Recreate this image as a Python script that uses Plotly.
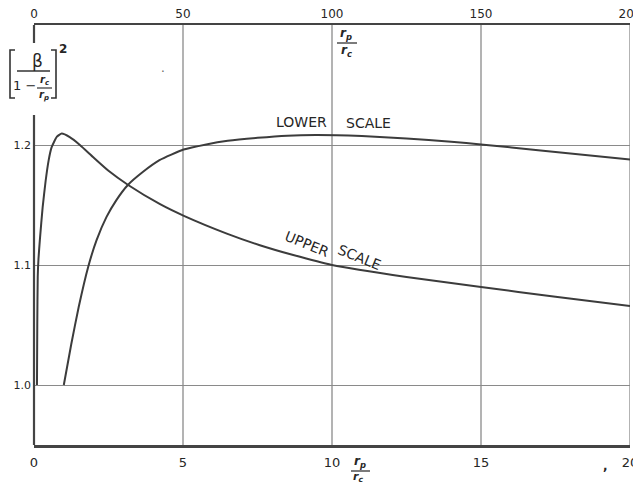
import plotly.graph_objects as go

# ---- data ----
LOWER_X = [1.0, 1.25, 1.5, 1.82, 2.10, 2.43, 2.77, 3.15, 3.66, 4.21, 5.02, 5.78, 6.5, 7.5, 8.5, 9.5, 11.0, 12.5, 14.0, 15.0, 17.0, 20.0]
LOWER_Y = [1.000, 1.034, 1.065, 1.0986, 1.1207, 1.1399, 1.1543, 1.1667, 1.1777, 1.1874, 1.1962, 1.2005, 1.2035, 1.2060, 1.2078, 1.2083, 1.2074, 1.2055, 1.2028, 1.2005, 1.1955, 1.1880]

UPPER_X = [1.0, 1.1, 1.25, 1.5, 2.0, 2.9, 3.9, 4.9, 5.9, 7.7, 9.3, 12.0, 15.4, 20.0, 25.0, 31.6, 42.3, 50.3, 64.7, 75.8, 87.0, 100.0, 125.0, 150.0, 175.0, 200.0]
UPPER_Y = [1.000, 1.050, 1.090, 1.105, 1.122, 1.148, 1.170, 1.187, 1.198, 1.207, 1.2095, 1.2065, 1.2000, 1.1895, 1.1785, 1.1667, 1.1507, 1.1410, 1.1262, 1.1165, 1.1083, 1.1000, 1.0900, 1.0817, 1.0735, 1.0658]

LOWER_TICKS = [0, 5, 10, 15, 20]
UPPER_TICKS = [0, 50, 100, 150, 200]
Y_TICKS = [1.0, 1.1, 1.2]
Y_TICK_TEXT = ["1.0", "1.1", "1.2"]

# ---- layout geometry (page pixels; the page body adds an 8 px offset) ----
OFF = 8
W, H = 633, 475
ML, MR, MT, MB = 26, 11, 17, 38
PW, PH = W - ML - MR, H - MT - MB


def px(x):
    return (x - OFF - ML) / PW


def py(y):
    return (H - MB - (y - OFF)) / PH


INK = "#3c3c3c"
GRID = "#8a8a8a"
TXT = "#262626"
FONT = "DejaVu Sans"

fig = go.Figure()
fig.add_trace(go.Scatter(x=LOWER_X, y=LOWER_Y, xaxis="x", yaxis="y", mode="lines",
                         line=dict(color=INK, width=2, shape="spline", smoothing=0.5),
                         hoverinfo="skip", showlegend=False))
fig.add_trace(go.Scatter(x=UPPER_X, y=UPPER_Y, xaxis="x2", yaxis="y", mode="lines",
                         line=dict(color=INK, width=2, shape="spline", smoothing=0.5),
                         hoverinfo="skip", showlegend=False))

shapes = []
# vertical grid lines (lower scale positions)
for t in LOWER_TICKS[1:]:
    shapes.append(dict(type="line", xref="x", yref="paper", x0=t, x1=t, y0=0, y1=1,
                       line=dict(color=GRID, width=1.3), layer="below"))
# left axis, broken where the y label sits
shapes.append(dict(type="line", xref="paper", yref="paper", x0=0, x1=0, y0=0, y1=py(115),
                   line=dict(color="#444", width=2.2)))
shapes.append(dict(type="line", xref="paper", yref="paper", x0=0, x1=0, y0=py(43), y1=1,
                   line=dict(color="#444", width=2.2)))
# brackets of the y label
shapes.append(dict(type="path", xref="paper", yref="paper",
                   path=f"M {px(15)},{py(50)} L {px(10)},{py(50)} L {px(10)},{py(98)} L {px(15)},{py(98)}",
                   line=dict(color="#333", width=1.6)))
shapes.append(dict(type="path", xref="paper", yref="paper",
                   path=f"M {px(51)},{py(50)} L {px(56)},{py(50)} L {px(56)},{py(98)} L {px(51)},{py(98)}",
                   line=dict(color="#333", width=1.6)))
# fraction bars
shapes.append(dict(type="line", xref="paper", yref="paper", x0=px(17), x1=px(50), y0=py(71), y1=py(71),
                   line=dict(color="#333", width=1.5)))
shapes.append(dict(type="line", xref="paper", yref="paper", x0=px(37), x1=px(52), y0=py(88), y1=py(88),
                   line=dict(color="#333", width=1.2)))
shapes.append(dict(type="line", xref="paper", yref="paper", x0=px(337), x1=px(357), y0=py(43), y1=py(43),
                   line=dict(color="#333", width=1.3)))
shapes.append(dict(type="line", xref="paper", yref="paper", x0=px(351), x1=px(370), y0=py(471), y1=py(471),
                   line=dict(color="#333", width=1.3)))


def ann(text, x, y, size=12, angle=0, italic=False, bold=False, color=TXT):
    t = text
    if bold:
        t = f"<b>{t}</b>"
    if italic:
        t = f"<i>{t}</i>"
    return dict(text=t, x=px(x), y=py(y), xref="paper", yref="paper", showarrow=False,
                xanchor="center", yanchor="middle", textangle=angle,
                font=dict(family=FONT, size=size, color=color))


annotations = [
    ann("β", 37, 61, 17),
    ann("1 −", 24, 85, 13),
    ann("r<sub>c</sub>", 45, 80, 10, italic=True, bold=True),
    ann("r<sub>p</sub>", 44, 96, 10, italic=True, bold=True),
    ann("2", 63, 49, 12, bold=True),
    ann("r<sub>p</sub>", 346, 34, 12, italic=True, bold=True),
    ann("r<sub>c</sub>", 346, 51, 12, italic=True, bold=True),
    ann("r<sub>p</sub>", 360, 462, 12, italic=True, bold=True),
    ann("r<sub>c</sub>", 358, 477, 11, italic=True, bold=True),
    ann("LOWER", 301, 122, 14),
    ann("SCALE", 368, 123, 14),
    ann("UPPER", 307, 244, 14, angle=22),
    ann("SCALE", 359, 257, 14, angle=22),
    ann("·", 163, 72, 12, color="#666"),
    ann(",", 605, 466, 12, bold=True),
]

tickfont = dict(family=FONT, size=13, color=TXT)
fig.update_layout(
    width=W, height=H,
    margin=dict(l=ML, r=MR, t=MT, b=MB, pad=0),
    paper_bgcolor="white", plot_bgcolor="white",
    showlegend=False,
    xaxis=dict(range=[0, 20], tickvals=LOWER_TICKS, ticktext=[str(v) for v in LOWER_TICKS],
               showgrid=False, zeroline=False, showline=True, linecolor="#444", linewidth=2.5,
               ticks="", ticklabelstandoff=4, automargin=False, ticklabeloverflow="allow",
               tickfont=tickfont),
    xaxis2=dict(range=[0, 200], overlaying="x", side="top", tickvals=UPPER_TICKS,
                ticktext=[str(v) for v in UPPER_TICKS],
                showgrid=False, zeroline=False, showline=True, linecolor="#444", linewidth=2.2,
                ticks="", ticklabelstandoff=0, automargin=False, ticklabeloverflow="allow",
                tickfont=dict(family=FONT, size=12, color=TXT)),
    yaxis=dict(range=[0.95, 1.30], tickvals=Y_TICKS, ticktext=Y_TICK_TEXT,
               showgrid=True, gridcolor=GRID, gridwidth=1.3, zeroline=False, showline=False,
               ticks="", ticklabelstandoff=2, automargin=False, ticklabeloverflow="allow",
               tickfont=dict(family=FONT, size=11, color=TXT)),
    shapes=shapes,
    annotations=annotations,
)

fig.write_html("out.html")
